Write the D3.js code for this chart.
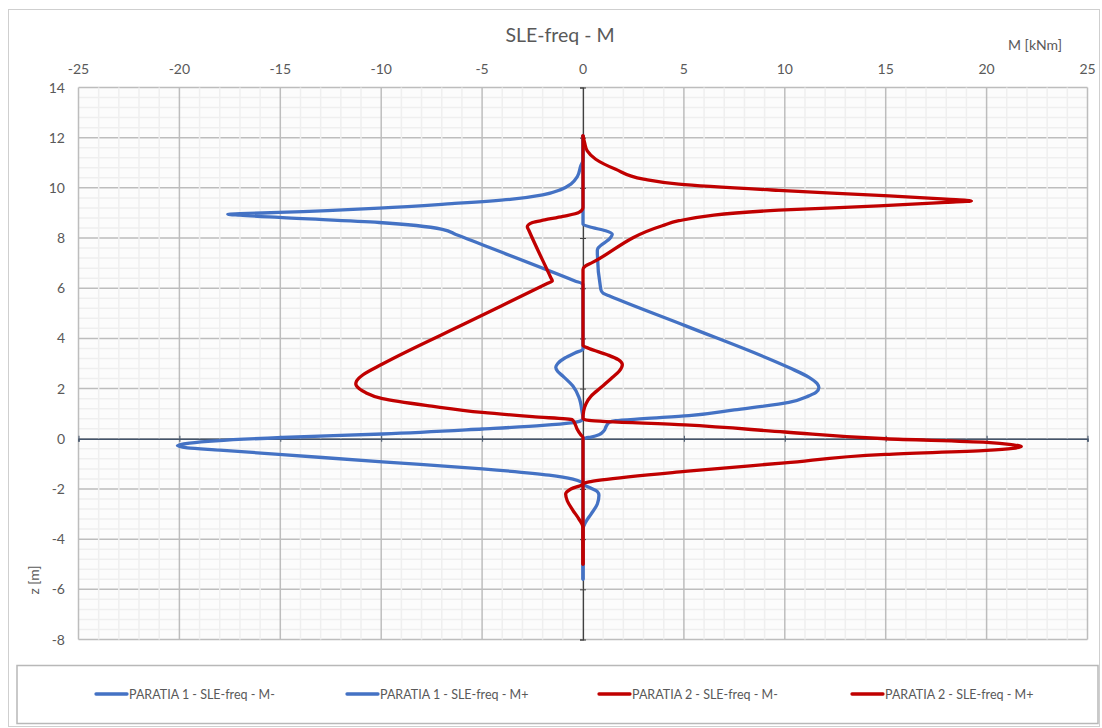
<!DOCTYPE html>
<html>
<head>
<meta charset="utf-8">
<script src="https://cdn.jsdelivr.net/npm/d3@7"></script>
<style>
  html, body { margin: 0; padding: 0; background: #ffffff; }
  svg text { font-family: Lato, "Open Sans", sans-serif; fill: #595959; }
</style>
</head>
<body>
<svg id="chart" width="1102" height="728"></svg>
<script>
// ---------- DATA ----------
const chartTitle = "SLE-freq - M";
const xAxisTitle = "M [kNm]";
const yAxisTitle = "z [m]";
const xTicks = [-25, -20, -15, -10, -5, 0, 5, 10, 15, 20, 25];
const yTicks = [-8, -6, -4, -2, 0, 2, 4, 6, 8, 10, 12, 14];
const seriesNames = [
  "PARATIA 1 - SLE-freq - M-",
  "PARATIA 1 - SLE-freq - M+",
  "PARATIA 2 - SLE-freq - M-",
  "PARATIA 2 - SLE-freq - M+"
];
// each series: M values (kNm) and matching z values (m), z decreasing
const p1MinusM = [0,0,-0.11,-0.28,-0.6,-1.1,-2.0,-3.5,-6.5,-10.1,-15.06,-17.0,-17.6,-17.0,-15.06,-10.1,-6.97,-6.3,-0.4,0,0,-0.4,-0.9,-1.25,-1.35,-1.25,-1.0,-0.5,-0.2,-0.05,0,-0.1,-0.6,-2.0,-4.99,-9.94,-14.9,-18.2,-19.5,-20.1,-19.6,-18.0,-14.9,-9.94,-4.99,-1.68,-0.5,-0.1,0,0];
const p1MinusZ = [12.07,11.1,10.88,10.45,10.15,9.93,9.72,9.55,9.37,9.19,9.02,8.97,8.95,8.91,8.82,8.62,8.35,8.14,6.29,6.16,3.57,3.42,3.22,3.0,2.85,2.68,2.5,2.1,1.65,1.1,0.8,0.72,0.63,0.53,0.39,0.19,0.05,-0.08,-0.17,-0.27,-0.36,-0.45,-0.63,-0.92,-1.2,-1.45,-1.61,-1.72,-1.8,-5.59];
const p1PlusM = [0,0,0.46,1.12,1.45,1.35,0.75,0.71,0.88,1.0,1.29,5.09,10.2,11.2,11.6,11.69,11.55,11.19,10.2,7.5,5.25,3.0,1.62,1.3,1.15,1.04,0.79,0.4,0.13,0,0,0.35,0.7,0.79,0.71,0.4,0.13,0,0];
const p1PlusZ = [12.07,8.55,8.42,8.29,8.15,8.0,7.6,7.5,5.96,5.8,5.7,4.5,2.84,2.45,2.2,2.04,1.85,1.71,1.45,1.15,0.92,0.8,0.72,0.65,0.5,0.32,0.16,0.07,0.03,0.0,-1.8,-1.95,-2.1,-2.25,-2.6,-3.0,-3.33,-3.6,-5.59];
const p2MinusM = [0,0,-0.2,-1.0,-1.9,-2.5,-2.76,-2.68,-1.6,-1.52,-1.75,-5.56,-9.94,-10.9,-11.22,-11.26,-11.1,-10.8,-9.94,-7.5,-4.99,-2.5,-0.53,-0.4,-0.3,-0.1,0,0,-0.6,-0.86,-0.78,-0.5,-0.2,0,0];
const p2MinusZ = [12.07,9.22,9.02,8.86,8.72,8.62,8.45,8.3,6.43,6.29,6.2,4.7,2.98,2.55,2.3,2.18,2.0,1.85,1.6,1.3,1.05,0.88,0.76,0.6,0.4,0.15,0.05,-1.8,-2.0,-2.2,-2.47,-2.85,-3.2,-3.53,-4.99];
const p2PlusM = [0,0.08,0.21,0.63,1.62,3.0,4.75,9.7,14.66,18.0,19.25,18.0,14.66,9.7,4.75,3.93,0.45,0.13,0,0,0.3,1.2,1.75,1.95,1.8,1.45,0.9,0.4,0.15,0.03,0,0.3,5.05,10.0,15.0,20.0,21.3,21.72,21.3,20.0,15.0,10.0,5.05,0.94,0.3,0,0];
const p2PlusZ = [12.07,11.8,11.47,11.14,10.74,10.35,10.15,9.9,9.7,9.55,9.48,9.42,9.28,9.11,8.69,8.49,7.02,6.89,6.75,3.72,3.6,3.35,3.15,2.95,2.7,2.44,2.05,1.7,1.4,1.1,0.8,0.73,0.55,0.27,0.0,-0.14,-0.24,-0.31,-0.38,-0.46,-0.62,-0.96,-1.3,-1.64,-1.72,-1.8,-4.99];
const seriesColors = ["#4472C4", "#4472C4", "#C00000", "#C00000"];

// ---------- LAYOUT ----------
const svg = d3.select("#chart");
const plot = { left: 78.5, right: 1087.5, top: 87.5, bottom: 639.5 };
const x = d3.scaleLinear().domain([-25, 25]).range([plot.left, plot.right]);
const y = d3.scaleLinear().domain([-8, 14]).range([plot.bottom, plot.top]);

// chart frame
svg.append("rect").attr("x", 8.5).attr("y", 9.5).attr("width", 1091).attr("height", 717)
  .attr("fill", "#ffffff").attr("stroke", "#cfcfcf").attr("stroke-width", 1);

// plot background
svg.append("rect").attr("x", plot.left).attr("y", plot.top)
  .attr("width", plot.right - plot.left).attr("height", plot.bottom - plot.top)
  .attr("fill", "#fcfcfc");

const minorX = d3.range(-25, 25.001, 1).filter(v => v % 5 !== 0);
const minorY = d3.range(-8, 14.001, 0.4).map(v => +v.toFixed(2)).filter(v => Math.abs(v / 2 - Math.round(v / 2)) > 1e-6);

const grid = svg.append("g");
grid.selectAll(".mh").data(minorY).join("line")
  .attr("x1", plot.left).attr("x2", plot.right)
  .attr("y1", d => y(d)).attr("y2", d => y(d))
  .attr("stroke", "#efefef").attr("stroke-width", 1.5);
grid.selectAll(".Mh").data(yTicks).join("line")
  .attr("x1", plot.left).attr("x2", plot.right)
  .attr("y1", d => y(d)).attr("y2", d => y(d))
  .attr("stroke", "#bdbdbd").attr("stroke-width", 1.5);
grid.selectAll(".mv").data(minorX).join("line")
  .attr("x1", d => x(d)).attr("x2", d => x(d))
  .attr("y1", plot.top).attr("y2", plot.bottom)
  .attr("stroke", "#efefef").attr("stroke-width", 1.5);
grid.selectAll(".Mv").data(xTicks).join("line")
  .attr("x1", d => x(d)).attr("x2", d => x(d))
  .attr("y1", plot.top).attr("y2", plot.bottom)
  .attr("stroke", "#bdbdbd").attr("stroke-width", 1.5);

// axis lines through zero
const hAxis = d3.axisBottom(x).tickValues(xTicks).tickSize(3).tickFormat("");
const hg = svg.append("g").attr("transform", `translate(0,${y(0)})`).call(hAxis);
hg.select(".domain").attr("stroke", "#44546A").attr("stroke-width", 1.5);
hg.selectAll(".tick line").attr("stroke", "#44546A").attr("y1", -3).attr("y2", 3);

const vAxis = d3.axisLeft(y).tickValues(yTicks).tickSize(3).tickFormat("");
const vg = svg.append("g").attr("transform", `translate(${x(0)},0)`).call(vAxis);
vg.select(".domain").attr("stroke", "#404040").attr("stroke-width", 1.2);
vg.selectAll(".tick line").attr("stroke", "#404040").attr("x1", -3).attr("x2", 3);

// tick labels (x at top, y at left)
svg.append("g").selectAll("text").data(xTicks).join("text")
  .attr("x", d => x(d)).attr("y", 74)
  .attr("text-anchor", "middle").attr("font-size", 14)
  .text(d => d);
svg.append("g").selectAll("text").data(yTicks).join("text")
  .attr("x", 65).attr("y", d => y(d) + 5)
  .attr("text-anchor", "end").attr("font-size", 14)
  .text(d => d);

// titles
svg.append("text").attr("x", 560).attr("y", 42).attr("text-anchor", "middle")
  .attr("font-size", 19.5).text(chartTitle);
svg.append("text").attr("x", 1035).attr("y", 50).attr("text-anchor", "middle")
  .attr("font-size", 14).text(xAxisTitle);
svg.append("text").attr("transform", "translate(39,580) rotate(-90)")
  .attr("text-anchor", "middle").attr("font-size", 14).text(yAxisTitle);

// series (each M is a function of depth z, so a monotone-in-y curve is used)
const series = [
  { M: p1MinusM, Z: p1MinusZ },
  { M: p1PlusM, Z: p1PlusZ },
  { M: p2MinusM, Z: p2MinusZ },
  { M: p2PlusM, Z: p2PlusZ }
];
const line = d3.line().x(d => x(d[0])).y(d => y(d[1])).curve(d3.curveMonotoneY);
svg.append("g").selectAll("path").data(series).join("path")
  .attr("d", s => line(s.M.map((m, i) => [m, s.Z[i]])))
  .attr("fill", "none")
  .attr("stroke", (s, i) => seriesColors[i])
  .attr("stroke-width", 3.3)
  .attr("stroke-linejoin", "round").attr("stroke-linecap", "round");

// legend
svg.append("rect").attr("x", 17).attr("y", 665.5).attr("width", 1081).attr("height", 58)
  .attr("fill", "#ffffff").attr("stroke", "#b8b8b8").attr("stroke-width", 1.5);
const legendX = [96, 347, 599, 852];
const lg = svg.append("g").selectAll("g").data(seriesNames).join("g")
  .attr("transform", (d, i) => `translate(${legendX[i]},694)`);
lg.append("line").attr("x1", 0).attr("x2", 31).attr("y1", 0).attr("y2", 0)
  .attr("stroke", (d, i) => seriesColors[i]).attr("stroke-width", 3.3).attr("stroke-linecap", "round");
lg.append("text").attr("x", 33).attr("y", 4.5).attr("font-size", 12.5).text(d => d);
</script>
</body>
</html>
